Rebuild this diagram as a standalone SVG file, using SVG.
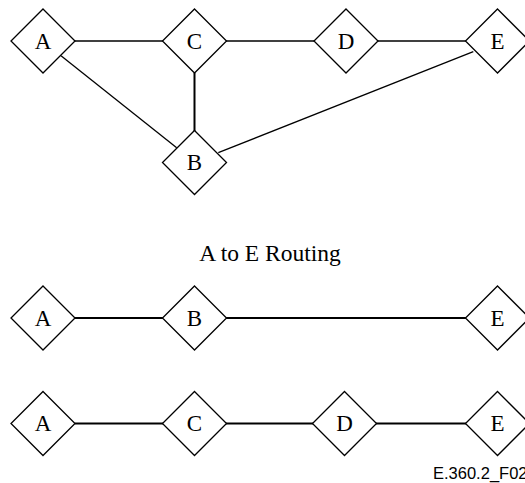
<svg xmlns="http://www.w3.org/2000/svg" width="525" height="483" viewBox="0 0 525 483">
<defs>
<style>
.n polygon{fill:#fff;stroke:#000;stroke-width:1.3}
.n text{font-family:"Liberation Serif","Times New Roman",serif;font-size:23px;text-anchor:middle;fill:#000}
.e line{stroke:#000;stroke-width:1.3}
.e line.t{stroke-width:2}
.cap{font-family:"Liberation Serif","Times New Roman",serif;font-size:23.5px;text-anchor:middle;fill:#000}
.ref{font-family:"Liberation Sans",Arial,sans-serif;font-size:16.5px;fill:#000}
</style>
</defs>
<g id="connectors" class="e">
<line x1="75" y1="41" x2="163" y2="41"/>
<line x1="226" y1="41" x2="314" y2="41"/>
<line x1="378" y1="41" x2="466" y2="41"/>
<line class="t" x1="194.5" y1="73" x2="194.5" y2="131"/>
<line x1="61" y1="55.7" x2="176.7" y2="147.7"/>
<line x1="473.3" y1="51.7" x2="218.3" y2="152.7"/>
<line class="t" x1="75" y1="318" x2="163" y2="318"/>
<line class="t" x1="226" y1="318" x2="466" y2="318"/>
<line class="t" x1="75" y1="423.5" x2="163" y2="423.5"/>
<line class="t" x1="226" y1="423.5" x2="313" y2="423.5"/>
<line class="t" x1="376" y1="423.5" x2="466" y2="423.5"/>
</g>
<g id="nA" class="n" transform="translate(43,41)"><polygon points="0,-32 32,0 0,32 -32,0"/><text y="7.5">A</text></g>
<g id="nC" class="n" transform="translate(194.5,41)"><polygon points="0,-32 32,0 0,32 -32,0"/><text y="7.5">C</text></g>
<g id="nD" class="n" transform="translate(346,41)"><polygon points="0,-32 32,0 0,32 -32,0"/><text y="7.5">D</text></g>
<g id="nE" class="n" transform="translate(497.5,41)"><polygon points="0,-32 32,0 0,32 -32,0"/><text y="7.5">E</text></g>
<g id="nB" class="n" transform="translate(194.5,162.5)"><polygon points="0,-32 32,0 0,32 -32,0"/><text y="7.5">B</text></g>
<text class="cap" x="270" y="261">A to E Routing</text>
<g id="r1A" class="n" transform="translate(43,318)"><polygon points="0,-32 32,0 0,32 -32,0"/><text y="7.5">A</text></g>
<g id="r1B" class="n" transform="translate(194.5,318)"><polygon points="0,-32 32,0 0,32 -32,0"/><text y="7.5">B</text></g>
<g id="r1E" class="n" transform="translate(497.5,318)"><polygon points="0,-32 32,0 0,32 -32,0"/><text y="7.5">E</text></g>
<g id="r2A" class="n" transform="translate(43,423.5)"><polygon points="0,-32 32,0 0,32 -32,0"/><text y="7.5">A</text></g>
<g id="r2C" class="n" transform="translate(194.5,423.5)"><polygon points="0,-32 32,0 0,32 -32,0"/><text y="7.5">C</text></g>
<g id="r2D" class="n" transform="translate(344.5,423.5)"><polygon points="0,-32 32,0 0,32 -32,0"/><text y="7.5">D</text></g>
<g id="r2E" class="n" transform="translate(497.5,423.5)"><polygon points="0,-32 32,0 0,32 -32,0"/><text y="7.5">E</text></g>
<text class="ref" x="433" y="479">E.360.2_F02</text>
</svg>
